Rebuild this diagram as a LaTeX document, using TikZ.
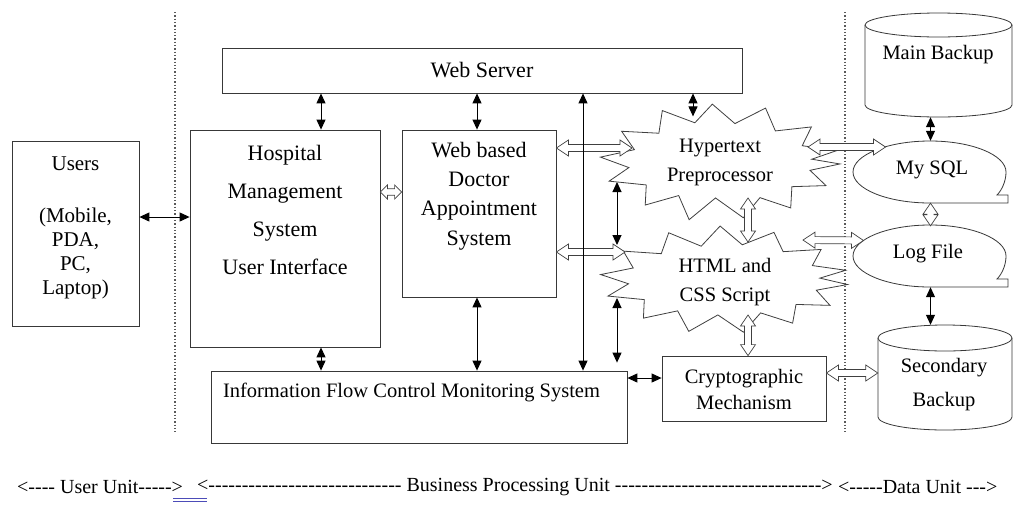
\documentclass[tikz,border=0pt]{standalone}
\usepackage{fontspec}
\setmainfont{Liberation Serif}
\usetikzlibrary{arrows.meta,calc}
\tikzset{
  box/.style={draw=black!78, line width=0.8pt, fill=white, inner sep=0pt},
  ghost/.style={inner sep=0pt},
  bi/.style={{Triangle[length=10pt,width=9pt]}-{Triangle[length=10pt,width=9pt]}, line width=1pt, black},
  blockst/.style={draw=black!75, line width=0.7pt, fill=white},
  divider/.style={dotted, line width=1.3pt, black!65},
  burstline/.style={draw=black!75, line width=0.8pt, fill=white, line join=miter},
  txt/.style={align=center, inner sep=0pt, font=\fontsize{20.5}{29}\selectfont},
  txtb/.style={align=center, inner sep=0pt, font=\fontsize{22}{29.3}\selectfont},
}
% hollow double block arrow between two points
\newcommand\blk[5]{%
  \draw[blockst] let \p1=(#1), \p2=(#2), \n1={veclen(\x2-\x1,\y2-\y1)}, \n2={atan2(\y2-\y1,\x2-\x1)} in
  [shift={(\x1,\y1)}, rotate=\n2] (0pt,0pt) -- (#5pt,#4pt) -- (#5pt,#3pt) -- ({\n1-#5pt},#3pt) -- ({\n1-#5pt},#4pt)
  -- (\n1,0pt) -- ({\n1-#5pt},-#4pt) -- ({\n1-#5pt},-#3pt) -- (#5pt,-#3pt) -- (#5pt,-#4pt) -- cycle;}
% tape shaped storage
\newcommand\tapeshape[2]{%
  \draw[box] ({#1},{#2+31}) .. controls ({#1-42.5},{#2+31}) and ({#1-77},{#2+17}) .. ({#1-77},{#2})
  .. controls ({#1-77},{#2-17}) and ({#1-42.5},{#2-31}) .. ({#1},{#2-31})
  .. controls ({#1+42},{#2-31}) and ({#1+76},{#2-17}) .. ({#1+76},{#2})
  .. controls ({#1+76},{#2+9}) and ({#1+72},{#2+18}) .. ({#1+67},{#2+23})
  -- ({#1+78},{#2+23}) -- ({#1+78},{#2+31}) -- cycle;}
\newcommand\dashes[1]{\foreach\k in {1,...,#1}{-\kern0pt}}
\begin{document}
\begin{tikzpicture}[x=1pt,y=-1pt]
\fill[white] (0,0) rectangle (1014,504);
\useasboundingbox (0,0) rectangle (1014,504);

% dividers
\draw[divider] (175,12) -- (175,433);
\draw[divider] (845,12) -- (845,433);

% boxes
\node[box, minimum width=520pt, minimum height=45pt] (web) at (482,70.5) {};
\node[box, minimum width=190pt, minimum height=217pt] (hosp) at (285,238.5) {};
\node[box, minimum width=127pt, minimum height=185pt] (users) at (75.5,233.5) {};
\node[box, minimum width=154pt, minimum height=167pt] (doc) at (479,213.5) {};
\node[box, minimum width=416pt, minimum height=72pt] (info) at (419,407) {};
\node[box, minimum width=164pt, minimum height=65pt] (crypto) at (744,388.5) {};

% explosion shapes
\node[ghost, minimum width=236pt, minimum height=112pt] (hyp) at (720,162) {};
\begin{scope}[shift={(hyp.center)}]
\draw[burstline] (2:120 and 56) -- (12:92 and 40) -- (24:116 and 58) -- (37:90 and 41)
 -- (50:110 and 60) -- (63:88 and 40) -- (78:112 and 57) -- (93:86 and 36)
 -- (106:112 and 60) -- (118:88 and 38) -- (131:114 and 57) -- (145:90 and 40)
 -- (160:118 and 56) -- (172:92 and 40) -- (185:120 and 56) -- (198:90 and 40)
 -- (212:116 and 58) -- (226:88 and 40) -- (239:112 and 60) -- (253:86 and 41)
 -- (266:110 and 58) -- (280:86 and 39) -- (294:112 and 59) -- (309:88 and 40)
 -- (322:116 and 57) -- (336:90 and 40) -- (348:120 and 56) -- (356:92 and 40) -- cycle;
\end{scope}
\node[ghost, minimum width=248pt, minimum height=106pt] (html) at (724,280) {};
\begin{scope}[shift={(html.center)}]
\draw[burstline] (5:124 and 52) -- (16:96 and 37) -- (28:120 and 54) -- (40:94 and 38)
 -- (53:114 and 54) -- (66:90 and 36) -- (80:112 and 53) -- (94:88 and 35)
 -- (108:114 and 54) -- (121:90 and 36) -- (134:116 and 53) -- (148:94 and 37)
 -- (162:122 and 52) -- (174:96 and 36) -- (186:124 and 52) -- (199:96 and 37)
 -- (213:120 and 53) -- (227:92 and 36) -- (241:114 and 54) -- (255:88 and 35)
 -- (268:112 and 54) -- (282:88 and 36) -- (296:114 and 53) -- (310:92 and 37)
 -- (324:120 and 52) -- (337:96 and 37) -- (349:124 and 51) -- (357:96 and 36) -- cycle;
\end{scope}

% cylinders
\node[ghost, minimum width=147pt, minimum height=104pt] (mb) at (938.5,65) {};
\draw[box] (865,25) -- (865,105) arc[start angle=180,end angle=360,x radius=73.5pt,y radius=12pt]
  -- (1012,25) arc[start angle=0,end angle=180,x radius=73.5pt,y radius=12pt] -- cycle;
\draw[box] (865,25) arc[start angle=180,end angle=360,x radius=73.5pt,y radius=12pt];
\node[ghost, minimum width=134pt, minimum height=105pt] (sb) at (945,377.5) {};
\draw[box] (878,338) -- (878,417) arc[start angle=180,end angle=360,x radius=67pt,y radius=13pt]
  -- (1012,338) arc[start angle=0,end angle=180,x radius=67pt,y radius=13pt] -- cycle;
\draw[box] (878,338) arc[start angle=180,end angle=360,x radius=67pt,y radius=13pt];

% tape shapes
\node[ghost, minimum width=155pt, minimum height=62pt] (sql) at (930.5,172) {};
\tapeshape{930}{172}
\node[ghost, minimum width=155pt, minimum height=61pt] (log) at (930.5,256.5) {};
\tapeshape{930}{256}

% texts
\node[txtb] (webT) at (482,70) {Web Server};
\node[align=center, inner sep=0pt, font=\fontsize{22}{38}\selectfont] (hospT) at (285,210) {Hospital\\Management\\System\\User Interface};
\node[align=center, inner sep=0pt, font=\fontsize{21}{24}\selectfont] (usersT) at (75.5,228) {Users\\[28pt](Mobile,\\PDA,\\PC,\\Laptop)};
\node[txtb] (docT) at (479,196) {Web based\\Doctor\\Appointment\\System};
\node[txt] (infoT) at (411.5,392) {Information Flow Control Monitoring System};
\node[txt, font=\fontsize{20.5}{26}\selectfont] (cryptoT) at (744,389) {Cryptographic\\Mechanism};
\node[txt] (hypT) at (720,162.5) {Hypertext\\Preprocessor};
\node[txt] (htmlT) at (725,282.5) {HTML and\\CSS Script};
\node[txt] (mbT) at (938,55) {Main Backup};
\node[txt] (sqlT) at (932,170) {My SQL};
\node[txt] (logT) at (928,254) {Log File};
\node[txt, font=\fontsize{20.5}{34}\selectfont] (sbT) at (944,385) {Secondary\\Backup};

% hollow block arrows
\blk{[yshift=46.5pt]hosp.east}{[yshift=46.5pt]hosp.east -| doc.west}{3.3}{7}{7}
\blk{[yshift=65.5pt]doc.east}{[xshift=-88pt,yshift=14pt]hyp.center}{3.5}{8}{12}
\blk{[yshift=-38.5pt]doc.east}{[xshift=-99pt,yshift=28pt]html.center}{3.5}{8}{12}
\blk{[xshift=28pt,yshift=-36pt]hyp.center}{[xshift=24pt,yshift=38pt]html.center}{3.5}{7.5}{11}
\blk{[xshift=24pt,yshift=-35pt]html.center}{[xshift=4pt]crypto.north}{3.5}{7.5}{11}
\blk{[xshift=88pt,yshift=15pt]hyp.center}{[xshift=-45pt,yshift=25pt]sql.center}{3.5}{8}{12}
\blk{[xshift=79pt,yshift=40pt]html.center}{[xshift=-67pt,yshift=16pt]log.center}{3.5}{8}{12}
\blk{[yshift=15.5pt]crypto.east}{[yshift=15.5pt]crypto.east -| sb.west}{3.5}{8}{12}
\blk{sql.south}{log.north}{3.5}{7.5}{11}

% black arrows
\draw[bi] ([yshift=16.5pt]users.east) -- ([yshift=16.5pt]users.east -| hosp.west);
\draw[bi] ([xshift=36pt]hosp.north) -- ([xshift=36pt]hosp.north |- web.south);
\draw[bi] ([xshift=-2pt]doc.north) -- ([xshift=-2pt]doc.north |- web.south);
\draw[bi] ([xshift=-2pt]doc.south) -- ([xshift=-2pt]doc.south |- info.north);
\draw[bi] ([xshift=36pt]hosp.south) -- ([xshift=36pt]hosp.south |- info.north);
\draw[bi] ([xshift=164pt]info.north) -- ([xshift=164pt]info.north |- web.south);
\draw[bi] ([xshift=211pt]web.south) -- ([xshift=211pt,yshift=-23pt]web.south);
\draw[bi] ([xshift=-103pt,yshift=-20pt]hyp.center) -- ([xshift=-107pt,yshift=35pt]html.center);
\draw[bi] ([xshift=-107pt,yshift=-18pt]html.center) -- ([xshift=198pt,yshift=8pt]info.north);
\draw[bi] ([yshift=29pt]info.east) -- ([yshift=29pt]info.east -| crypto.west);
\draw[bi] (sql.north) -- (sql.north |- mb.south);
\draw[bi] (log.south) -- (log.south |- sb.north);

% bottom legend
\node[anchor=west, inner sep=0pt, font=\fontsize{20}{24}\selectfont] (lu) at (17,487) {<\dashes{4} User Unit\dashes{5}>};
\node[anchor=west, inner sep=0pt, font=\fontsize{20}{24}\selectfont] (lb) at (197,487) {<\dashes{29} Business Processing Unit \dashes{31}>};
\node[anchor=west, inner sep=0pt, font=\fontsize{20}{24}\selectfont] (ld) at (838,487) {<\dashes{5}Data Unit \dashes{3}>};
\draw[blue!60!black!70, line width=0.6pt] (173,498) -- (207,498) (173,501) -- (207,501);
\end{tikzpicture}
\end{document}
